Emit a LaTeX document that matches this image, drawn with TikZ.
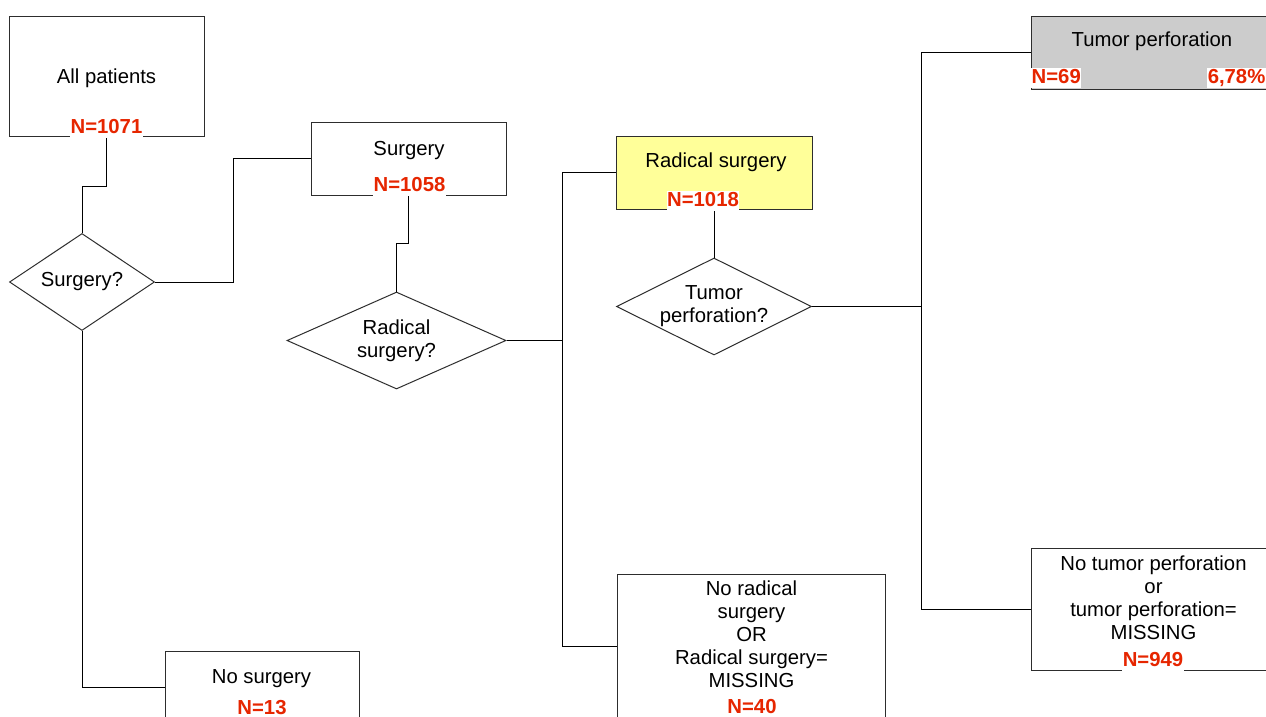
\documentclass[tikz,border=0pt]{standalone}
\usepackage{fontspec}
\setmainfont{Liberation Sans}
\usepackage{xcolor}
\definecolor{countred}{RGB}{230,38,0}
\definecolor{radyellow}{RGB}{255,255,153}
\definecolor{perfgray}{RGB}{204,204,204}
\definecolor{edgegray}{RGB}{45,45,45}
\usetikzlibrary{shapes.geometric}

\begin{document}
\begin{tikzpicture}[
  x=1pt, y=-1pt,
  font=\fontsize{20.3}{23}\selectfont,
  % --- chart style: edit visual look here -----------------------------
  box/.style={draw=edgegray, line width=1pt, fill=white, inner sep=0pt},
  decision/.style={diamond, draw=edgegray, line width=1pt, fill=white,
                   inner sep=0pt, align=center},
  txt/.style={anchor=base, align=center, inner sep=0pt},
  count/.style={anchor=base, text=countred, font=\fontsize{20.3}{23}\selectfont\bfseries,
                fill=white, inner xsep=0.5pt, inner ysep=1pt, text depth=4pt},
  conn/.style={black, line width=1pt},
  % ---------------------------------------------------------------------
]
  \useasboundingbox[fill=white] (0,0) rectangle (1266,716);

  % Boxes
  \node[box, minimum width=195pt, minimum height=120pt] (allpat) at (106.5,76) {};
  \node[box, minimum width=195pt, minimum height=73pt] (surg) at (408.5,158.5) {};
  \node[box, fill=radyellow, minimum width=196pt, minimum height=73pt] (rad) at (714,172.5) {};
  \node[box, fill=perfgray, minimum width=269pt, minimum height=73pt] (tumperf) at (1165.5,52.5) {};
  \node[box, minimum width=269pt, minimum height=122pt] (notum) at (1165.5,609) {};
  \node[box, minimum width=268pt, minimum height=144pt] (norad) at (751,646) {};
  \node[box, minimum width=194pt, minimum height=72pt] (nosurg) at (262,687) {};

  % Decisions
  \node[decision, aspect=1.5, minimum width=145pt, minimum height=97pt] (dsurg) at (82,282) {Surgery?};
  \node[decision, aspect=2.26, minimum width=219pt, minimum height=97pt] (drad) at (396.5,340.5) {Radical\\surgery?};
  \node[decision, aspect=2, minimum width=195pt, minimum height=97pt] (dtum) at (714,306.5) {Tumor\\perforation?};

  % Connectors
  \draw[conn] (allpat.south) -- ++(0,50) -| (dsurg.north);
  \draw[conn] (dsurg.east) -- ++(78,0) |- (surg.west);
  \draw[conn] (dsurg.south) |- (nosurg.west);
  \draw[conn] (surg.south) -- ++(0,48) -| (drad.north);
  \draw[conn] (drad.east) -- ++(56,0) coordinate (split1);
  \draw[conn] (split1) |- (rad.west);
  \draw[conn] (split1) |- (norad.west);
  \draw[conn] (rad.south) -- (dtum.north);
  \draw[conn] (dtum.east) -- ++(109,0) coordinate (split2);
  \draw[conn] (split2) |- (tumperf.west);
  \draw[conn] (split2) |- (notum.west);

  % Box texts (multi-line ones sit on their last line)
  \node[txt] (allpat-t) at (106.5,83) {All patients};
  \node[txt] (surg-t) at (409,155) {Surgery};
  \node[txt] (rad-t) at (716,167) {Radical surgery};
  \node[txt] (tumperf-t) at (1152,46) {Tumor perforation};
  \node[txt] (notum-t) at (1153.5,639) {No tumor perforation\\or\\tumor perforation=\\MISSING};
  \node[txt] (norad-t) at (751.5,687) {No radical\\surgery\\OR\\Radical surgery=\\MISSING};
  \node[txt] (nosurg-t) at (261.5,683) {No surgery};

  % Counts
  \node[count] (allpat-n) at (106.5,133) {N=1071};
  \node[count] (surg-n) at (409.5,191) {N=1058};
  \node[count] (rad-n) at (703,206) {N=1018};
  \node[count, anchor=base west] (tumperf-n) at (1031,83) {N=69};
  \node[count, anchor=base east] (tumperf-p) at (1266,83) {6,78\%};
  \node[count] (notum-n) at (1153,666) {N=949};
  \node[count] (norad-n) at (752,713) {N=40};
  \node[count] (nosurg-n) at (262,714) {N=13};
\end{tikzpicture}
\end{document}
